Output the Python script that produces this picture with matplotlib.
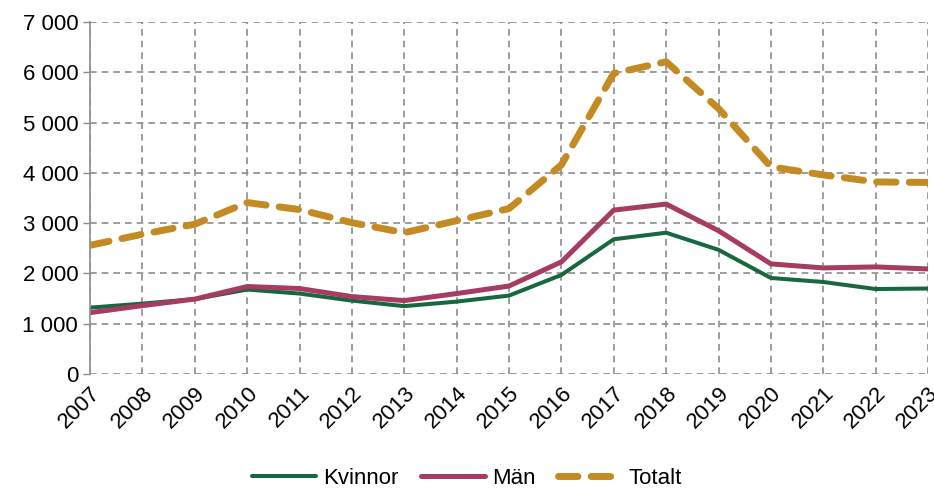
import matplotlib
matplotlib.use("Agg")
from matplotlib import pyplot as plt
from matplotlib.ticker import FuncFormatter

years = list(range(2007, 2024))
kvinnor = [1320, 1400, 1490, 1680, 1600, 1460, 1350, 1440, 1560, 1970, 2680, 2810, 2470, 1910, 1830, 1690, 1700]
man = [1220, 1360, 1490, 1740, 1700, 1540, 1460, 1600, 1750, 2230, 3260, 3380, 2850, 2190, 2110, 2130, 2090]
totalt = [2560, 2780, 2980, 3410, 3270, 3010, 2810, 3050, 3290, 4160, 5980, 6210, 5280, 4120, 3960, 3820, 3810]

plt.rcParams['font.family'] = ['Liberation Sans', 'DejaVu Sans']
fs = 16

fig = plt.figure(figsize=(9.34, 4.92), dpi=100)
ax = fig.add_axes([0.0964, 0.2398, 0.8972, 0.7154])

ax.plot(years, kvinnor, color='#17693d', lw=2.9, label='Kvinnor', solid_capstyle='round')
ax.plot(years, man, color='#a63b63', lw=3.6, label='Män', solid_capstyle='round')
ax.plot(years, totalt, color='#c48b22', lw=5.0, label='Totalt', dashes=(2.8, 1.9), dash_capstyle='round')

ax.set_xlim(2007, 2023)
ax.set_ylim(0, 7000)
ax.set_xticks(years)
ax.set_xticklabels([str(y) for y in years], rotation=45, ha='right', rotation_mode='anchor', fontsize=fs)
ax.set_yticks(range(0, 7001, 1000))
ax.yaxis.set_major_formatter(FuncFormatter(lambda v, p: f"{int(v):,}".replace(",", " ")))
ax.tick_params(axis='y', labelsize=fs, color='#8c8c8c', length=5, width=1)
ax.tick_params(axis='x', length=0, pad=6)

ax.grid(True, color='#8c8c8c', linestyle=(0, (4, 3)), lw=1.2)
ax.set_axisbelow(True)
for s in ['top', 'right', 'bottom']:
    ax.spines[s].set_visible(False)
ax.spines['left'].set_color('#8c8c8c')
ax.spines['left'].set_linewidth(1.2)

fig.legend(loc='lower center', bbox_to_anchor=(0.5, -0.035), ncol=3, frameon=False,
           fontsize=fs, handlelength=2.9, columnspacing=1.0, handletextpad=0.3)

plt.savefig('out.png', dpi=100)
